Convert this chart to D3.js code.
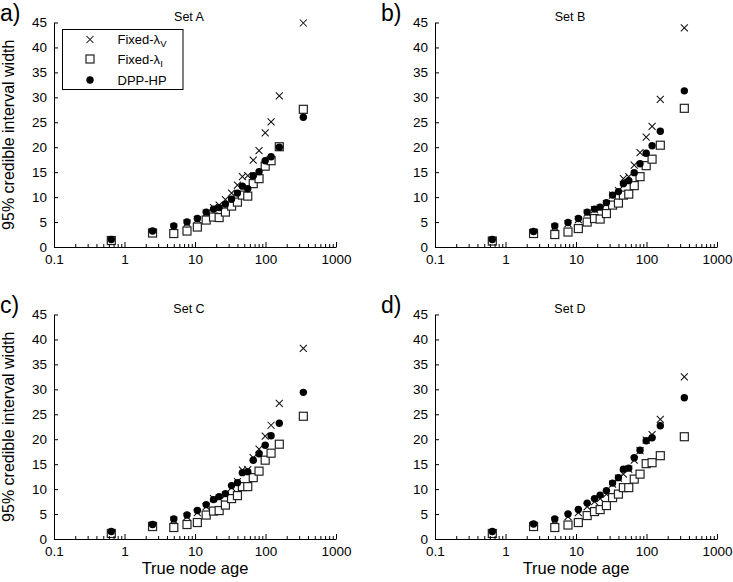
<!DOCTYPE html>
<html><head><meta charset="utf-8">
<script src="https://cdn.jsdelivr.net/npm/d3@7/dist/d3.min.js"></script>
<style>body{margin:0;background:#fff}svg{display:block;font-family:"Liberation Sans",Arial,sans-serif}</style>
</head><body><svg id="c" width="733" height="582"></svg>
<script>
const ages = [0.65, 2.5, 5, 7.7, 10.8, 14.4, 18.3, 22, 27, 33, 40, 47, 56, 67, 81, 99, 120, 157, 344];
const setNames = ["Set A", "Set B", "Set C", "Set D"];
const panelLabels = ["a)", "b)", "c)", "d)"];
const seriesNames = ["Fixed-λ", "Fixed-λ", "DPP-HP"];
const seriesSubs = ["V", "I", ""];
const xTicks = [0.1, 1, 10, 100, 1000];
const yTicks = [0, 5, 10, 15, 20, 25, 30, 35, 40, 45];

const fixedV_A = [1.3, 3.0, 4.0, 4.8, 5.5, 6.8, 7.9, 8.4, 9.5, 10.8, 12.4, 14.1, 14.3, 17.4, 19.3, 22.9, 25.1, 30.3, 44.9];
const fixedI_A = [1.3, 2.8, 2.7, 3.2, 4.0, 5.4, 6.0, 5.9, 7.0, 8.2, 9.0, 10.4, 10.2, 12.7, 13.7, 16.2, 17.3, 20.1, 27.6];
const dpp_A    = [1.5, 3.2, 4.2, 5.0, 5.7, 7.0, 7.6, 7.9, 8.6, 9.6, 10.8, 12.2, 11.7, 14.3, 15.1, 17.3, 18.1, 20.0, 26.0];

const fixedV_B = [1.3, 3.0, 4.0, 4.7, 5.5, 6.8, 7.5, 7.8, 8.7, 10.4, 11.3, 13.7, 14.1, 16.4, 18.9, 22.0, 24.2, 29.6, 43.9];
const fixedI_B = [1.2, 2.7, 2.5, 3.0, 3.7, 5.0, 5.7, 5.6, 6.7, 8.4, 8.8, 10.4, 10.6, 12.3, 14.1, 16.3, 17.6, 20.4, 27.8];
const dpp_B    = [1.5, 3.1, 4.2, 4.9, 5.7, 7.0, 7.6, 8.0, 8.9, 10.4, 11.1, 12.7, 13.3, 14.9, 16.7, 18.8, 20.3, 23.2, 31.3];

const fixedV_C = [1.3, 2.8, 3.8, 4.5, 5.3, 6.5, 8.1, 8.2, 8.8, 10.3, 11.5, 13.8, 13.9, 16.3, 18.0, 20.6, 22.8, 27.2, 38.2];
const fixedI_C = [1.1, 2.5, 2.3, 2.9, 3.3, 4.8, 5.6, 5.7, 6.8, 8.1, 8.7, 10.5, 10.5, 12.3, 13.6, 15.8, 17.2, 19.0, 24.6];
const dpp_C    = [1.5, 2.9, 4.0, 4.8, 5.7, 6.9, 7.9, 8.5, 9.1, 10.7, 11.3, 13.3, 13.5, 15.8, 17.1, 18.8, 20.7, 23.2, 29.4];

const fixedV_D = [1.3, 2.8, 3.7, 4.5, 5.3, 6.5, 7.5, 8.1, 9.0, 11.0, 12.2, 13.0, 14.0, 15.8, 17.7, 19.8, 20.9, 24.0, 32.5];
const fixedI_D = [1.1, 2.5, 2.3, 2.8, 3.3, 4.7, 5.5, 5.9, 6.7, 8.3, 9.0, 10.3, 10.3, 12.0, 13.0, 15.1, 15.3, 16.7, 20.5];
const dpp_D    = [1.5, 3.0, 4.0, 5.0, 5.9, 7.2, 8.1, 8.8, 9.7, 11.2, 12.3, 14.0, 14.2, 16.3, 17.8, 19.7, 20.3, 22.7, 28.3];

const sets = [
  [fixedV_A, fixedI_A, dpp_A],
  [fixedV_B, fixedI_B, dpp_B],
  [fixedV_C, fixedI_C, dpp_C],
  [fixedV_D, fixedI_D, dpp_D]
];

const svg = d3.select("#c");
const W = 282, H = 224.5;
const origins = [[54, 22.5], [435, 22.5], [54, 314.5], [435, 314.5]];
const minorTicks = [];
for (let d = 0.1; d < 1000; d *= 10) for (let m = 2; m <= 9; m++) minorTicks.push(+(d * m).toPrecision(3));

function crossPath(s){return `M${-s},${-s}L${s},${s}M${-s},${s}L${s},${-s}`;}

function drawMarker(g, type, x, y){
  if (type === 0) g.append("path").attr("transform",`translate(${x},${y})`).attr("d", crossPath(3.5)).attr("stroke","#111").attr("stroke-width",1.05).attr("fill","none");
  else if (type === 1) g.append("rect").attr("x",x-4).attr("y",y-4).attr("width",8).attr("height",8).attr("fill","#fff").attr("stroke","#222").attr("stroke-width",1.2);
  else g.append("circle").attr("cx",x).attr("cy",y).attr("r",3.7).attr("fill","#000");
}

sets.forEach((series, i) => {
  const [ox, oy] = origins[i];
  const g = svg.append("g").attr("transform", `translate(${ox},${oy})`);
  const x = d3.scaleLog().domain([0.1, 1000]).range([0, W]);
  const y = d3.scaleLinear().domain([0, 45]).range([H, 0]);

  [0, 1, 2].forEach(k => {
    const gs = g.append("g");
    series[k].forEach((v, j) => drawMarker(gs, k, x(ages[j]), y(v)));
  });

  const xa = g.append("g").attr("transform", `translate(0,${H})`)
    .call(d3.axisBottom(x).tickValues(xTicks).tickFormat(d3.format("~g")).tickSizeInner(-5).tickSizeOuter(0).tickPadding(7));
  const xm = g.append("g").attr("transform", `translate(0,${H})`)
    .call(d3.axisBottom(x).tickValues(minorTicks).tickFormat("").tickSizeInner(-3).tickSizeOuter(0));
  xm.select(".domain").remove();
  const ya = g.append("g")
    .call(d3.axisLeft(y).tickValues(yTicks).tickSizeInner(-4).tickSizeOuter(0).tickPadding(7));
  [xa, xm, ya].forEach(a => {
    a.selectAll("text").attr("font-size", 13.5).attr("font-family", "Liberation Sans, Arial, sans-serif").attr("fill","#000");
    a.selectAll("line,path").attr("stroke", "#000");
  });

  g.append("text").attr("x", W/2 - 6).attr("y", -1.5).attr("text-anchor","middle").attr("font-size",12.5).text(setNames[i]);
  svg.append("text").attr("x", ox - 54).attr("y", oy - 2).attr("font-size", 23).text(panelLabels[i]);

  if (i % 2 === 0) {
    svg.append("text").attr("transform", `translate(${ox - 40},${oy + H/2}) rotate(-90)`)
      .attr("text-anchor","middle").attr("font-size",16).text("95% credible interval width");
  }
  if (i >= 2) {
    g.append("text").attr("x", W/2).attr("y", H + 35).attr("text-anchor","middle").attr("font-size",16.5).text("True node age");
  }
  if (i === 0) {
    const lg = g.append("g").attr("transform","translate(8.5,7)");
    lg.append("rect").attr("width",120.5).attr("height",60).attr("fill","#fff").attr("stroke","#000").attr("stroke-width",1);
    const rows = [10, 29.5, 50.5];
    [0,1,2].forEach(k => {
      drawMarker(lg, k, 27.5, rows[k]);
      const t = lg.append("text").attr("x", 55).attr("y", rows[k] + 4.5).attr("font-size", 13);
      t.append("tspan").text(seriesNames[k]);
      if (seriesSubs[k]) t.append("tspan").attr("font-size", 9.5).attr("dy", 3).text(seriesSubs[k]);
    });
  }
});
</script></body></html>
